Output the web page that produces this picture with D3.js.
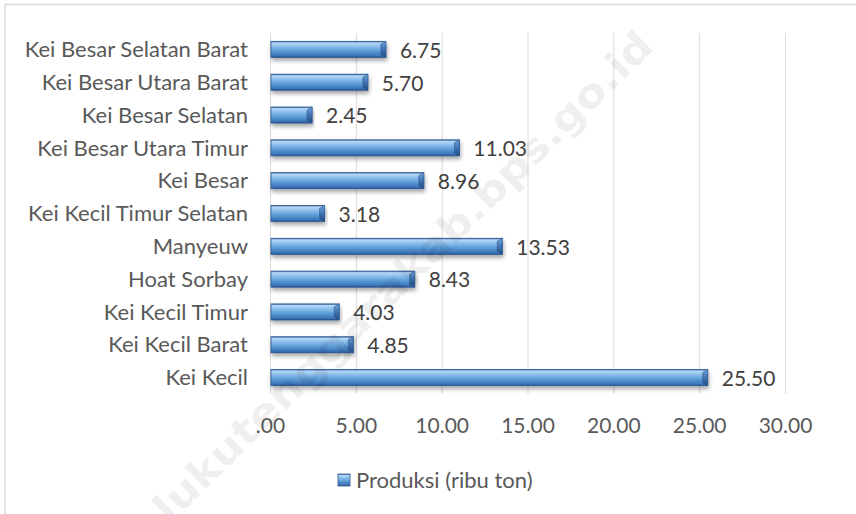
<!DOCTYPE html>
<html>
<head>
<meta charset="utf-8">
<script src="https://cdn.jsdelivr.net/npm/d3@7"></script>
<style>
  body { margin: 0; background: #fff; }
  text { font-family: Lato, "Open Sans", sans-serif; }
</style>
</head>
<body>
<script>
var width = 856;
var height = 514;

// categories bottom to top, as the spreadsheet lists them
var categories = ["Kei Kecil", "Kei Kecil Barat", "Kei Kecil Timur", "Hoat Sorbay", "Manyeuw",
    "Kei Kecil Timur Selatan", "Kei Besar", "Kei Besar Utara Timur", "Kei Besar Selatan",
    "Kei Besar Utara Barat", "Kei Besar Selatan Barat"];
var produksi = [25.50, 4.85, 4.03, 8.43, 13.53, 3.18, 8.96, 11.03, 2.45, 5.70, 6.75];
var ticks = [0, 5, 10, 15, 20, 25, 30];
var seriesName = "Produksi (ribu ton)";
var watermark = "malukutenggarakab.bps.go.id";

var svg = d3.select('body').append('svg')
        .attr('width', width)
        .attr('height', height);

var defs = svg.append('defs');

var grad = defs.append('linearGradient')
        .attr('id', 'barGrad')
        .attr('x1', 0).attr('y1', 0).attr('x2', 0).attr('y2', 1);
[[0, '#3a69a6'], [0.1, '#b7d7f5'], [0.3, '#8fc0ee'], [0.6, '#5b9bd5'], [0.88, '#3d76bb'], [1, '#28538c']]
    .forEach(function (s) {
        grad.append('stop').attr('offset', s[0]).attr('stop-color', s[1]);
    });

var capGrad = defs.append('linearGradient')
        .attr('id', 'capGrad')
        .attr('x1', 0).attr('y1', 0).attr('x2', 0).attr('y2', 1);
[[0, '#6fa6dc'], [0.5, '#3f74b3'], [1, '#234a7e']].forEach(function (s) {
    capGrad.append('stop').attr('offset', s[0]).attr('stop-color', s[1]);
});

var shadow = defs.append('filter')
        .attr('id', 'shadow')
        .attr('x', '-5%').attr('y', '-40%').attr('width', '110%').attr('height', '200%');
shadow.append('feDropShadow')
        .attr('dx', 1).attr('dy', 3)
        .attr('stdDeviation', 2)
        .attr('flood-color', '#000')
        .attr('flood-opacity', 0.35);

// chart frame (only top and left edges fall inside the picture)
svg.append('rect')
        .attr('x', 5).attr('y', 4.5)
        .attr('width', 900).attr('height', 600)
        .attr('fill', 'none')
        .attr('stroke', '#d9d9d9')
        .attr('stroke-width', 1.5);

var x = d3.scaleLinear().domain([0, 30]).range([270, 785]);
var y = d3.scaleBand()
        .domain(categories.slice().reverse())
        .range([33, 394])
        .paddingInner(0.51)
        .paddingOuter(0.255);

// gridlines
svg.append('g').selectAll('line')
        .data(ticks)
        .enter().append('line')
            .attr('x1', function (d) { return x(d) + 0.5; })
            .attr('x2', function (d) { return x(d) + 0.5; })
            .attr('y1', 33)
            .attr('y2', 394)
            .attr('stroke', '#d9d9d9')
            .attr('stroke-width', 1);

// x axis labels
var fmt = d3.format('.2f');
var xAxis = d3.axisBottom(x)
        .tickValues(ticks)
        .tickSize(0)
        .tickPadding(0)
        .tickFormat(function (d) { return d === 0 ? '.00' : fmt(d); });
var gx = svg.append('g')
        .attr('transform', 'translate(0,415)')
        .call(xAxis);
gx.select('.domain').remove();
gx.selectAll('text')
        .attr('dy', 0)
        .attr('y', 18)
        .style('font-size', '21px')
        .style('font-family', 'Lato, sans-serif')
        .attr('fill', '#595959');

// category labels
var yAxis = d3.axisLeft(y).tickSize(0).tickPadding(22);
var gy = svg.append('g')
        .attr('transform', 'translate(270,0)')
        .call(yAxis);
gy.select('.domain').remove();
gy.selectAll('text')
        .attr('dy', '0.35em')
        .style('font-size', '22px')
        .style('font-family', 'Lato, sans-serif')
        .attr('fill', '#595959');

// bars
var bars = svg.append('g').selectAll('g.bar')
        .data(produksi)
        .enter().append('g')
            .attr('class', 'bar');

bars.append('rect')
        .attr('x', x(0) + 1)
        .attr('y', function (d, i) { return y(categories[i]); })
        .attr('width', function (d) { return x(d) - x(0) - 1; })
        .attr('height', y.bandwidth())
        .attr('fill', 'url(#barGrad)')
        .attr('stroke', '#2c5891')
        .attr('stroke-width', 0.8)
        .attr('filter', 'url(#shadow)');

bars.append('polygon')
        .attr('points', function (d, i) {
            var xe = x(d), y0 = y(categories[i]), h = y.bandwidth();
            return [[xe - 5, y0 + 3], [xe, y0], [xe, y0 + h], [xe - 5, y0 + h - 3]].join(' ');
        })
        .attr('fill', 'url(#capGrad)')
        .attr('stroke', '#2c5891')
        .attr('stroke-width', 0.6);

// data labels
svg.append('g').selectAll('text')
        .data(produksi)
        .enter().append('text')
            .attr('x', function (d) { return x(d) + 14; })
            .attr('y', function (d, i) { return y(categories[i]) + y.bandwidth() / 2 + 1; })
            .attr('dy', '0.35em')
            .style('font-size', '21px')
            .attr('fill', '#404040')
            .text(function (d) { return fmt(d); });

// legend
var legend = svg.append('g').attr('transform', 'translate(338,474)');
legend.append('rect')
        .attr('width', 12).attr('height', 12)
        .attr('fill', 'url(#barGrad)')
        .attr('stroke', '#2c5891')
        .attr('stroke-width', 0.8);
legend.append('text')
        .attr('x', 18)
        .attr('y', 6)
        .attr('dy', '0.35em')
        .style('font-size', '22px')
        .attr('fill', '#595959')
        .text(seriesName);

// watermark
svg.append('text')
        .attr('transform', 'translate(105,568) rotate(-44.4)')
        .attr('dy', '0.35em')
        .attr('textLength', 757)
        .attr('lengthAdjust', 'spacingAndGlyphs')
        .style('font-family', '"DejaVu Sans", sans-serif')
        .style('font-weight', 'bold')
        .style('font-size', '40px')
        .attr('fill', '#000')
        .attr('fill-opacity', 0.08)
        .text(watermark);
</script>
</body>
</html>
